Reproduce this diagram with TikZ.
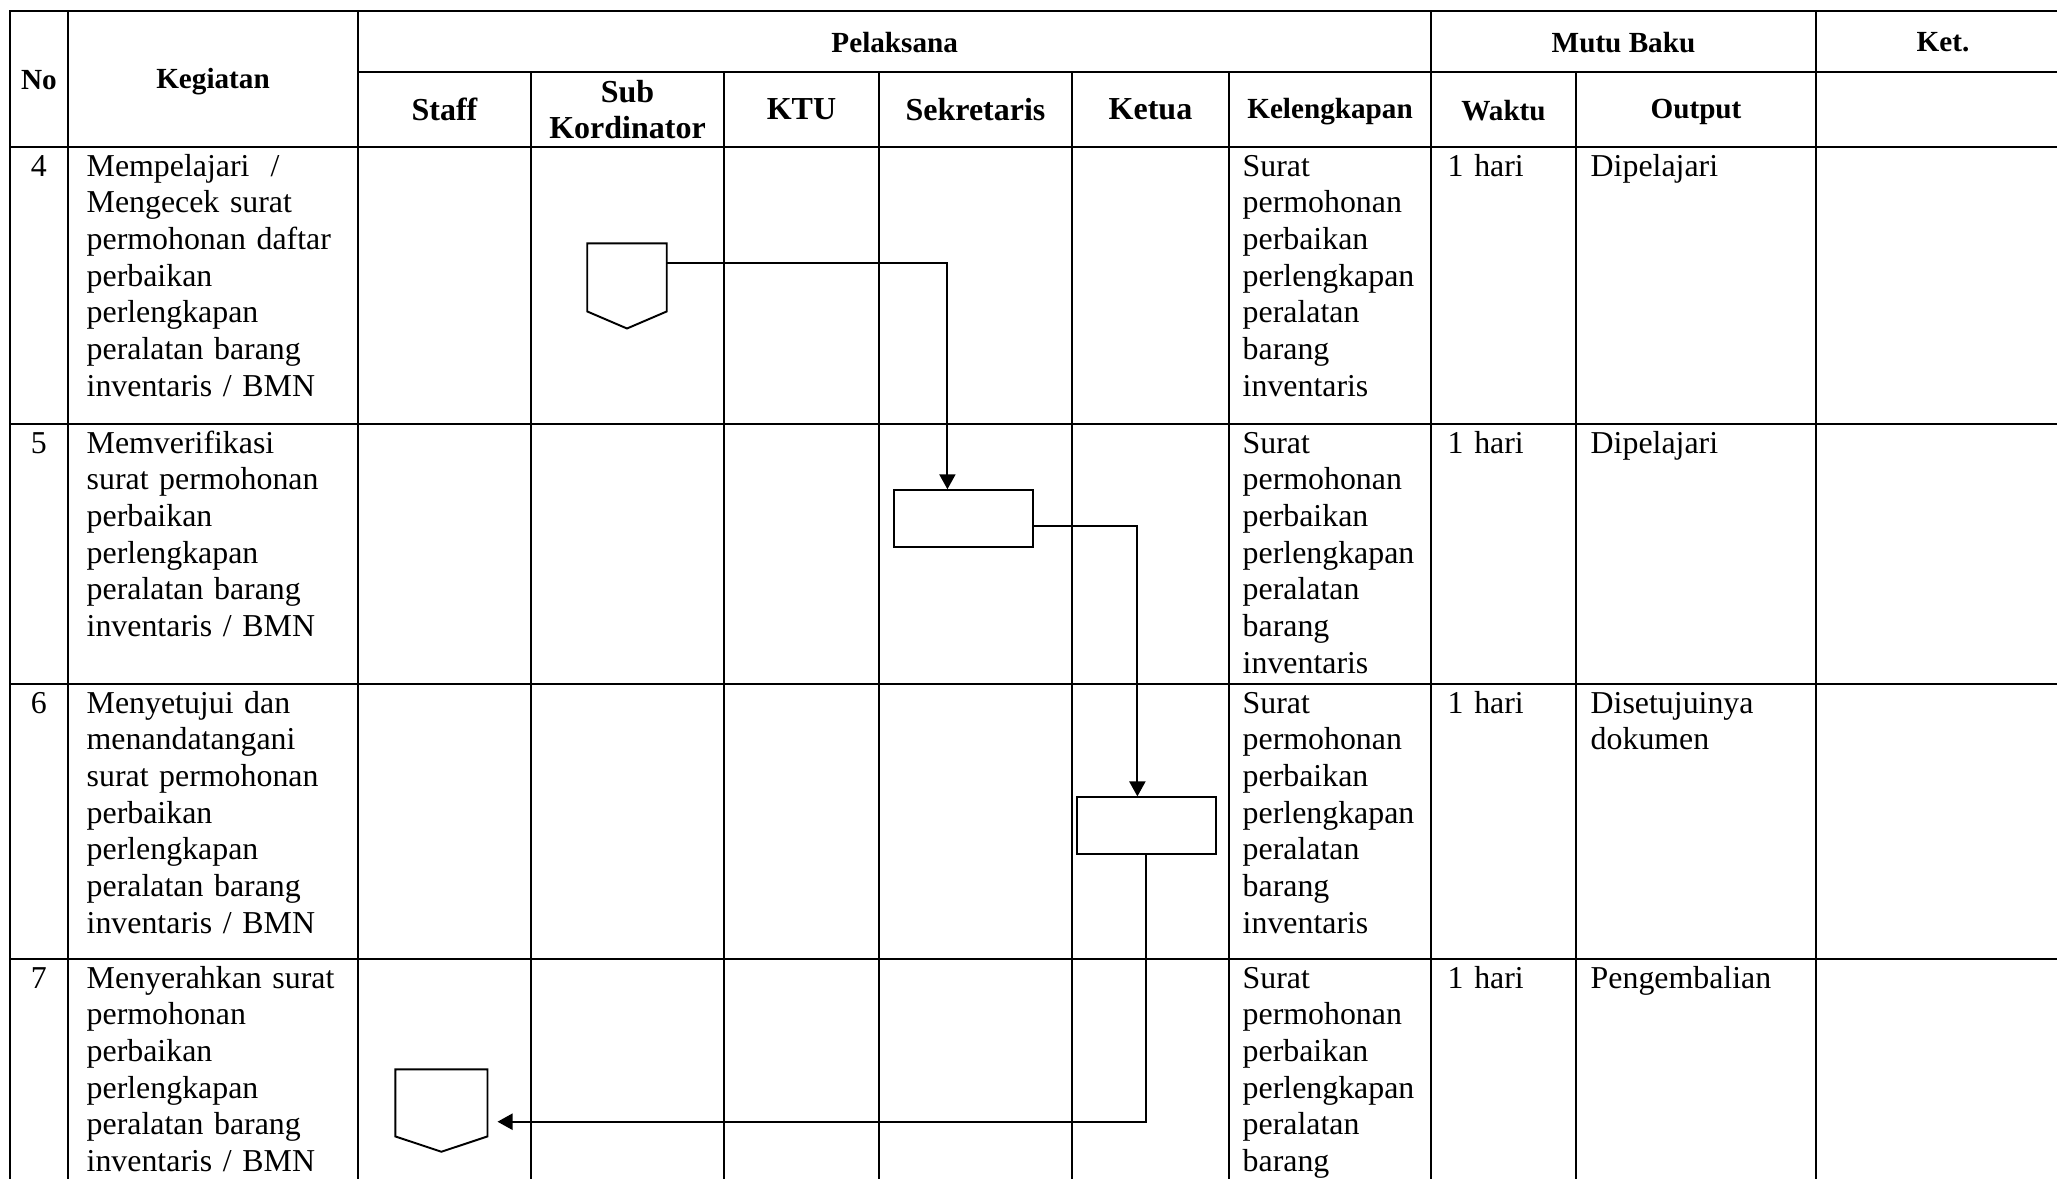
\documentclass[tikz,border=0pt]{standalone}
\usepackage{fontspec}
\setmainfont{Liberation Serif}
\usetikzlibrary{arrows.meta}

\tikzset{
  garis/.style={line width=0.75pt, line cap=rect},
  judul/.style={font=\bfseries\fontsize{8.3}{10}\selectfont, inner sep=0pt},
  peran/.style={font=\bfseries\fontsize{9.1}{10.1}\selectfont, inner sep=0pt, align=center},
  isi/.style={font=\fontsize{9.06}{10.44}\selectfont, inner sep=0pt, anchor=base west, align=left, text width=#1},
  isi/.default=3.2cm,
  nomor/.style={font=\fontsize{9.06}{10.44}\selectfont, inner sep=0pt, anchor=base},
  proses/.style={draw, line width=0.55pt, minimum width=1.39cm, minimum height=0.57cm, inner sep=0pt},
  halaman/.style={inner sep=0pt},
  alir/.style={line width=0.6pt, -{Triangle[length=1.5mm, width=1.6mm]}},
}

\begin{document}
\begin{tikzpicture}[x=0.01cm, y=-0.01cm]
        \useasboundingbox (0,0) rectangle (2057,1178);
        \clip (0,0) rectangle (2057,1178);

        % grid of the table
        \foreach \y in {11,147,424,684,959}
            \draw[garis] (10,\y) -- (2080,\y);
        \draw[garis] (358,72) -- (2080,72);
        \foreach \x in {10,68,358,1431,1816}
            \draw[garis] (\x,11) -- (\x,1200);
        \foreach \x in {531,724,879,1072,1229,1576}
            \draw[garis] (\x,72) -- (\x,1200);

        % header
        \node[judul] (hno) at (38.9,80) {No};
        \node[judul] (hkeg) at (213,82) {Kegiatan};
        \node[judul] (hpel) at (894.7,42.5) {Pelaksana};
        \node[judul] (hmutu) at (1623.5,42.5) {Mutu Baku};
        \node[judul] (hket) at (1943,42.5) {Ket.};
        \node[peran] (hstaff) at (444.5,109.5) {Staff};
        \node[peran] (hsub) at (627.5,109.5) {Sub\\Kordinator};
        \node[peran] (hktu) at (801.5,109.5) {KTU};
        \node[peran] (hsek) at (975.5,109.5) {Sekretaris};
        \node[peran] (hketua) at (1150.5,109.5) {Ketua};
        \node[judul] (hlengkap) at (1330,112) {Kelengkapan};
        \node[judul] (hwaktu) at (1503.5,110.5) {Waktu};
        \node[judul] (houtput) at (1696,112) {Output};

        % row 4
        \node[nomor] (no4) at (38.9,176) {4};
        \node[isi] (keg4) at (86,176) {Mempelajari\ \ /\\Mengecek surat\\permohonan daftar\\perbaikan\\perlengkapan\\peralatan barang\\inventaris / BMN};
        \node[isi=1.9cm] (lengkap4) at (1242,176) {Surat\\permohonan\\perbaikan\\perlengkapan\\peralatan\\barang\\inventaris};
        \node[isi=1.2cm] (waktu4) at (1447,176) {1 hari};
        \node[isi=2.2cm] (out4) at (1590,176) {Dipelajari};

        % row 5
        \node[nomor] (no5) at (38.9,453) {5};
        \node[isi] (keg5) at (86,453) {Memverifikasi\\surat permohonan\\perbaikan\\perlengkapan\\peralatan barang\\inventaris / BMN};
        \node[isi=1.9cm] (lengkap5) at (1242,453) {Surat\\permohonan\\perbaikan\\perlengkapan\\peralatan\\barang\\inventaris};
        \node[isi=1.2cm] (waktu5) at (1447,453) {1 hari};
        \node[isi=2.2cm] (out5) at (1590,453) {Dipelajari};

        % row 6
        \node[nomor] (no6) at (38.9,713) {6};
        \node[isi] (keg6) at (86,713) {Menyetujui dan\\menandatangani\\surat permohonan\\perbaikan\\perlengkapan\\peralatan barang\\inventaris / BMN};
        \node[isi=1.9cm] (lengkap6) at (1242,713) {Surat\\permohonan\\perbaikan\\perlengkapan\\peralatan\\barang\\inventaris};
        \node[isi=1.2cm] (waktu6) at (1447,713) {1 hari};
        \node[isi=2.2cm] (out6) at (1590,713) {Disetujuinya\\dokumen};

        % row 7
        \node[nomor] (no7) at (38.9,988) {7};
        \node[isi] (keg7) at (86,988) {Menyerahkan surat\\permohonan\\perbaikan\\perlengkapan\\peralatan barang\\inventaris / BMN};
        \node[isi=1.9cm] (lengkap7) at (1242,988) {Surat\\permohonan\\perbaikan\\perlengkapan\\peralatan\\barang};
        \node[isi=1.2cm] (waktu7) at (1447,988) {1 hari};
        \node[isi=2.2cm] (out7) at (1590,988) {Pengembalian};

        % flow symbols
        \node[halaman, minimum width=0.78cm, minimum height=0.837cm] (kirim4) at (627,285.9) {};
        \draw[line width=0.55pt] (kirim4.north west) -- (kirim4.north east) -- ([yshift=0.17cm]kirim4.south east)
            -- (kirim4.south) -- ([yshift=0.17cm]kirim4.south west) -- cycle;
        \node[proses] (verif5) at (963.9,518.75) {};
        \node[proses] (setuju6) at (1146.4,825.9) {};
        \node[halaman, minimum width=0.907cm, minimum height=0.81cm] (kirim7) at (441.4,1110.5) {};
        \draw[line width=0.55pt] (kirim7.north west) -- (kirim7.north east) -- ([yshift=0.153cm]kirim7.south east)
            -- (kirim7.south) -- ([yshift=0.153cm]kirim7.south west) -- cycle;

        % connectors
        \draw[alir] ([yshift=-0.2cm]kirim4.north east) -| ([xshift=0.54cm]verif5.north west);
        \draw[alir] ([yshift=-0.075cm]verif5.east) -| ([xshift=-0.09cm]setuju6.north);
        \draw[alir] (setuju6.south) |- ([xshift=0.1cm, yshift=-0.112cm]kirim7.east);
\end{tikzpicture}
\end{document}
